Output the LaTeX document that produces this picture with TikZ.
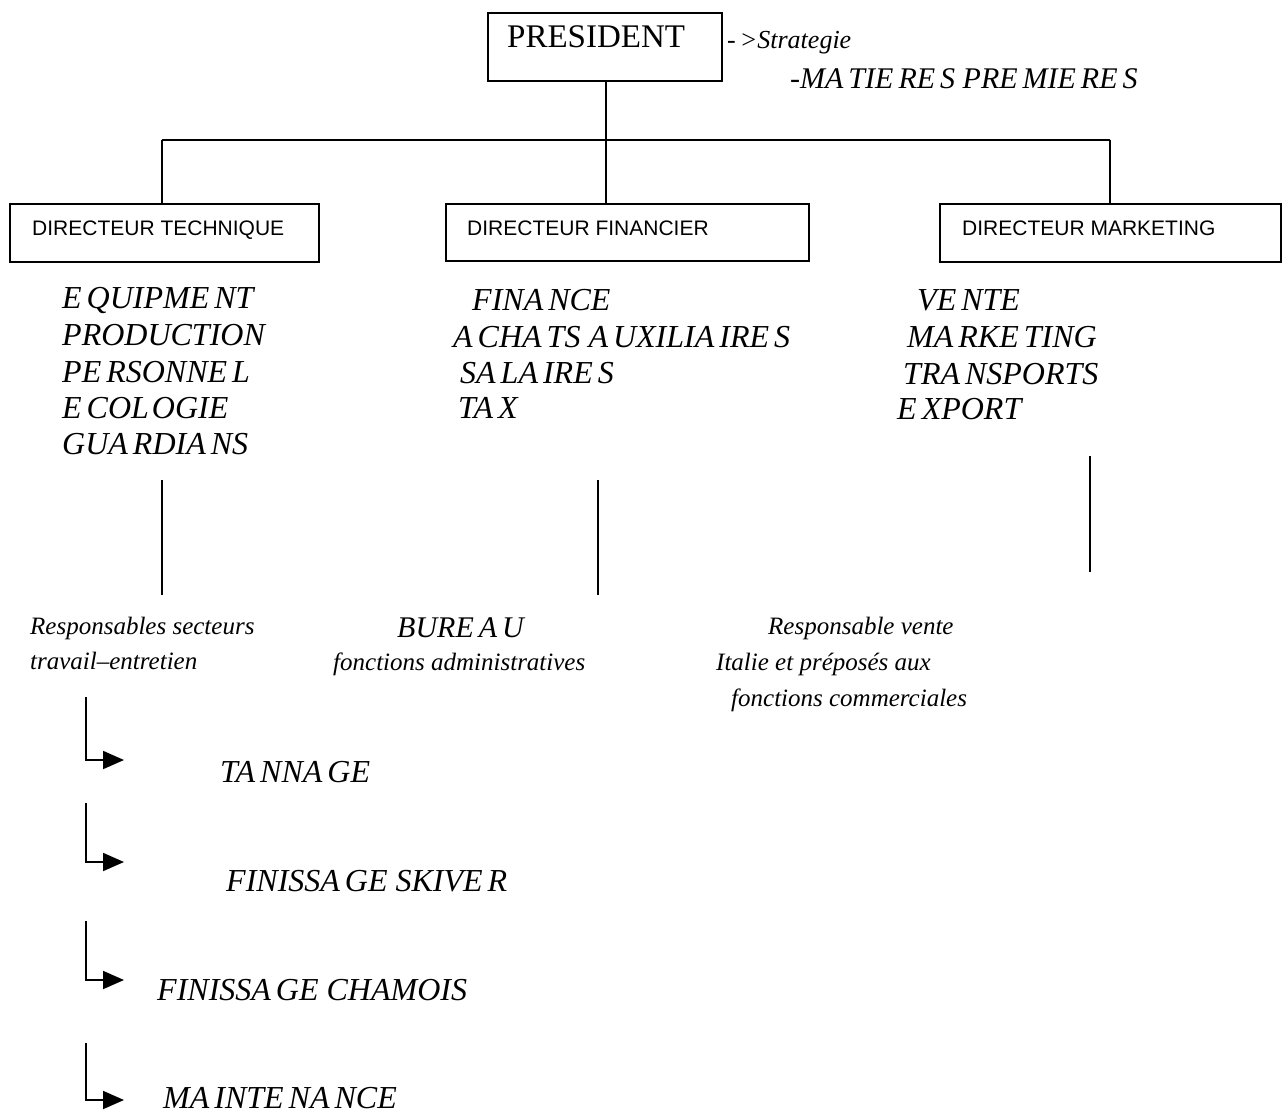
\documentclass[tikz,border=0pt]{standalone}
\usepackage{fontspec}
\setmainfont{Liberation Serif}
\newfontfamily\arialf{Liberation Sans}
\usetikzlibrary{arrows.meta}
\newcommand\gp{\kern5pt}
\begin{document}
\begin{tikzpicture}[x=1pt,y=-1pt,
 ln/.style={line width=1.9pt},
 txt/.style={anchor=base west, inner sep=0pt, font=\fontsize{32}{36}\selectfont\itshape},
 smalltxt/.style={anchor=base west, inner sep=0pt, font=\fontsize{25}{30}\selectfont\itshape},
 dlabel/.style={anchor=base west, inner sep=0pt, font=\arialf\fontsize{21}{24}\selectfont},
 boxst/.style={draw, line width=1.9pt, anchor=north west, inner sep=0pt},
 arr/.style={line width=1.9pt, -{Triangle[length=21pt,width=18pt]}}
]
\useasboundingbox (0,0) rectangle (1283,1114);
\fill[white] (0,0) rectangle (1283,1114);
% president
\node[boxst, minimum width=234pt, minimum height=68pt] (pres) at (487,12) {};
\node[anchor=base west, inner sep=0pt, font=\fontsize{33}{36}\selectfont] (prest) at (507,47) {PRESIDENT};
\node[smalltxt, font=\fontsize{26}{30}\selectfont\itshape] (strat) at (727,48) {-\kern4pt>Strategie};
\node[txt, font=\fontsize{30}{34}\selectfont\itshape] (mat) at (790,88) {-MA\gp TIE\gp RE\gp S PRE\gp MIE\gp RE\gp S};
% directors
\node[boxst, minimum width=309pt, minimum height=58pt] (dt) at (9,203) {};
\node[boxst, minimum width=363pt, minimum height=57pt] (df) at (445,203) {};
\node[boxst, minimum width=341pt, minimum height=58pt] (dm) at (939,203) {};
\node[dlabel] (dtl) at (32,235) {DIRECTEUR TECHNIQUE};
\node[dlabel] (dfl) at (467,235) {DIRECTEUR FINANCIER};
\node[dlabel] (dml) at (962,235) {DIRECTEUR MARKETING};
% tree
\coordinate (b1) at (162,140);
\coordinate (b2) at (606,140);
\coordinate (b3) at (1110,140);
\draw[ln] (pres.south -| b2) -- (b2);
\draw[ln] (b1) -- (b3);
\draw[ln] (b1) -- (b1 |- dt.north);
\draw[ln] (b2) -- (b2 |- df.north);
\draw[ln] (b3) -- (b3 |- dm.north);
% column 1
\node[txt] (c11) at (62,308) {E\gp QUIPME\gp NT};
\node[txt] (c12) at (62,345) {PRODUCTION};
\node[txt] (c13) at (62,382) {PE\gp RSONNE\gp L};
\node[txt] (c14) at (62,418) {E\gp COL\kern3pt OGIE};
\node[txt] (c15) at (62,454) {GUA\gp RDIA\gp NS};
% column 2
\node[txt] (c21) at (472,310) {FINA\gp NCE};
\node[txt] (c22) at (453,347) {A\gp CHA\gp TS A\gp UXILIA\gp IRE\gp S};
\node[txt] (c23) at (460,383) {SA\gp LA\gp IRE\gp S};
\node[txt] (c24) at (458,418) {TA\gp X};
% column 3
\node[txt] (c31) at (917,310) {VE\gp NTE};
\node[txt] (c32) at (907,347) {MA\gp RKE\gp TING};
\node[txt] (c33) at (903,384) {TRA\gp NSPORTS};
\node[txt] (c34) at (897,419) {E\gp XPORT};
% vertical lines
\coordinate (v1a) at (162,480); \coordinate (v1b) at (162,595);
\coordinate (v2a) at (598,480); \coordinate (v2b) at (598,595);
\coordinate (v3a) at (1090,456); \coordinate (v3b) at (1090,572);
\draw[ln] (v1a) -- (v1b);
\draw[ln] (v2a) -- (v2b);
\draw[ln] (v3a) -- (v3b);
% lower texts
\node[smalltxt] (r1) at (30,634) {Responsables secteurs};
\node[smalltxt] (r2) at (30,669) {travail–entretien};
\node[txt, font=\fontsize{30}{34}\selectfont\itshape] (bu) at (397,637) {BURE\gp A\gp U};
\node[smalltxt] (fa) at (333,670) {fonctions administratives};
\node[smalltxt] (rv1) at (768,634) {Responsable vente};
\node[smalltxt] (rv2) at (716,670) {Italie et préposés aux};
\node[smalltxt] (rv3) at (731,706) {fonctions commerciales};
% arrows
\coordinate (a1) at (86,697); \coordinate (e1) at (124,760);
\coordinate (a2) at (86,803); \coordinate (e2) at (124,862);
\coordinate (a3) at (86,921); \coordinate (e3) at (124,980);
\coordinate (a4) at (86,1043); \coordinate (e4) at (124,1100);
\draw[arr] (a1) |- (e1);
\draw[arr] (a2) |- (e2);
\draw[arr] (a3) |- (e3);
\draw[arr] (a4) |- (e4);
\node[txt] (t1) at (220,782) {TA\gp NNA\gp GE};
\node[txt] (t2) at (226,891) {FINISSA\gp GE SKIVE\gp R};
\node[txt] (t3) at (157,1000) {FINISSA\gp GE CHAMOIS};
\node[txt] (t4) at (163,1108) {MA\gp INTE\gp NA\gp NCE};
\end{tikzpicture}
\end{document}
